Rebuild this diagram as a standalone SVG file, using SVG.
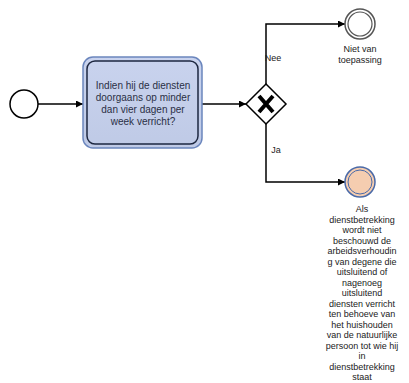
<svg xmlns="http://www.w3.org/2000/svg" width="409" height="383" viewBox="0 0 409 383">
  <defs>
    <marker id="arrow" viewBox="0 0 10 10" refX="10" refY="5" markerWidth="7" markerHeight="7" markerUnits="userSpaceOnUse" orient="auto">
      <path d="M0,0 L10,5 L0,10 z" fill="#000"/>
    </marker>
    <linearGradient id="taskFill" x1="0" y1="0" x2="0" y2="1">
      <stop offset="0" stop-color="#c9d3ee"/>
      <stop offset="1" stop-color="#bfcae6"/>
    </linearGradient>
  </defs>
  <style>
    .edge { fill: none; stroke: #000; stroke-width: 1.5; marker-end: url(#arrow); }
    .label { font-family: "Liberation Sans", Arial, sans-serif; font-size: 9px; fill: #222; text-anchor: middle; }
    .tasktext { font-family: "Liberation Sans", Arial, sans-serif; font-size: 10px; fill: #2a2f45; text-anchor: middle; }
  </style>
  <rect width="409" height="383" fill="#fff"/>

  <g id="connectors">
    <path class="edge" d="M38,104 L83,104"/>
    <path class="edge" d="M202,104 L246,104"/>
    <path class="edge" d="M266,84 L266,24 L345,24"/>
    <path class="edge" d="M266,124 L266,182 L345,182"/>
    <text class="label" x="273" y="61">Nee</text>
    <text class="label" x="276" y="153">Ja</text>
  </g>

  <g id="start">
    <circle cx="24" cy="104" r="14" fill="#fff" stroke="#000" stroke-width="1.5"/>
  </g>

  <g id="task">
    <rect x="83" y="57" width="119" height="91" rx="10" fill="url(#taskFill)" stroke="#6b86bd" stroke-width="1.5"/>
    <rect x="87" y="61" width="111" height="83" rx="8" fill="none" stroke="#1d2740" stroke-width="1.5"/>
    <text class="tasktext" x="143" y="89">Indien hij de diensten</text>
    <text class="tasktext" x="143" y="101">doorgaans op minder</text>
    <text class="tasktext" x="143" y="113">dan vier dagen per</text>
    <text class="tasktext" x="143" y="125">week verricht?</text>
  </g>

  <g id="gateway">
    <path d="M266,84 L286,104 L266,124 L246,104 z" fill="#fff" stroke="#000" stroke-width="1.5"/>
    <path d="M259,96 L273,112 M273,96 L259,112" stroke="#000" stroke-width="4" stroke-linecap="butt"/>
  </g>

  <g id="end-nee">
    <circle cx="360" cy="24" r="15" fill="#fff" stroke="#555" stroke-width="1.5"/>
    <circle cx="360" cy="24" r="12" fill="#fff" stroke="#555" stroke-width="1.2"/>
    <text class="label" x="360" y="52">Niet van</text>
    <text class="label" x="360" y="63">toepassing</text>
  </g>

  <g id="end-ja">
    <circle cx="360" cy="182" r="15" fill="#f5cdb0" stroke="#4a6aa8" stroke-width="1.5"/>
    <circle cx="360" cy="182" r="12" fill="#f5cdb0" stroke="#4a6aa8" stroke-width="1"/>
    <text class="label" x="362" y="212">Als</text>
    <text class="label" x="362" y="222.5">dienstbetrekking</text>
    <text class="label" x="362" y="233">wordt niet</text>
    <text class="label" x="362" y="243.5">beschouwd de</text>
    <text class="label" x="362" y="254">arbeidsverhoudin</text>
    <text class="label" x="362" y="264.5">g van degene die</text>
    <text class="label" x="362" y="275">uitsluitend of</text>
    <text class="label" x="362" y="285.5">nagenoeg</text>
    <text class="label" x="362" y="296">uitsluitend</text>
    <text class="label" x="362" y="306.5">diensten verricht</text>
    <text class="label" x="362" y="317">ten behoeve van</text>
    <text class="label" x="362" y="327.5">het huishouden</text>
    <text class="label" x="362" y="338">van de natuurlijke</text>
    <text class="label" x="362" y="348.5">persoon tot wie hij</text>
    <text class="label" x="362" y="359">in</text>
    <text class="label" x="362" y="369.5">dienstbetrekking</text>
    <text class="label" x="362" y="380">staat</text>
  </g>
</svg>
